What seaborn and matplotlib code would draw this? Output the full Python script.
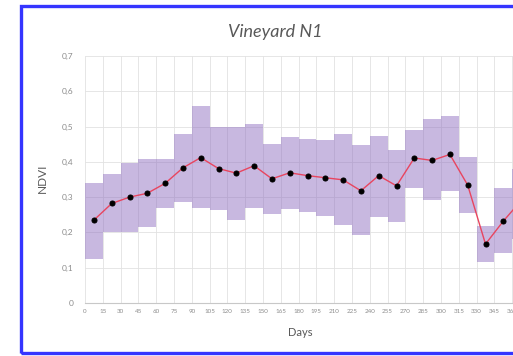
import matplotlib
matplotlib.use("Agg")
import matplotlib.pyplot as plt
import matplotlib.patches as mpatches
import numpy as np
import pandas as pd
import seaborn as sns

# Sampling days (every 15 days)
days = [0, 15, 30, 45, 60, 75, 90, 105, 120, 135, 150, 165, 180, 195, 210,
        225, 240, 255, 270, 285, 300, 315, 330, 345, 360]
# Mean NDVI per date
ndvi_mean = [0.235, 0.282, 0.300, 0.311, 0.339, 0.383, 0.412, 0.381, 0.368,
             0.389, 0.352, 0.369, 0.361, 0.355, 0.349, 0.318, 0.361, 0.332,
             0.411, 0.404, 0.421, 0.334, 0.167, 0.232, 0.290]
# Min / max NDVI per date
ndvi_min = [0.124, 0.200, 0.200, 0.214, 0.268, 0.285, 0.270, 0.264, 0.235,
            0.268, 0.252, 0.265, 0.259, 0.247, 0.221, 0.193, 0.245, 0.229,
            0.326, 0.291, 0.318, 0.254, 0.117, 0.142, 0.180]
ndvi_max = [0.341, 0.365, 0.398, 0.408, 0.408, 0.478, 0.558, 0.498, 0.500,
            0.506, 0.450, 0.471, 0.464, 0.462, 0.478, 0.448, 0.473, 0.434,
            0.490, 0.521, 0.530, 0.415, 0.217, 0.325, 0.380]
y_ticks = [0, 0.1, 0.2, 0.3, 0.4, 0.5, 0.6, 0.7]

df = pd.DataFrame({"pos": np.arange(len(days)), "day": days,
                   "mean": ndvi_mean, "lo": ndvi_min, "hi": ndvi_max})

sns.set_style("white")
plt.rcParams["font.family"] = ["Lato", "DejaVu Sans"]

W, H = 513, 356
fig = plt.figure(figsize=(W / 100, H / 100), dpi=100)
fig.patch.set_facecolor("white")
ax = fig.add_axes([85 / W, 53 / H, 445 / W, 247 / H])

text_grey = "#595959"
grid_grey = "#e2e2e2"

# min-max range as full-width columns
ax.bar(df["pos"], df["hi"] - df["lo"], bottom=df["lo"], width=1.0,
       color="#9272c2", alpha=0.5, linewidth=0, zorder=2)

# mean NDVI line
sns.lineplot(data=df, x="pos", y="mean", ax=ax, color="#e8455f", linewidth=1.0,
             marker="o", markersize=3.6, markerfacecolor="black",
             markeredgecolor="black", zorder=3)

ax.set_xlim(-0.5, len(days) - 0.5)
ax.set_ylim(0, 0.7)

ax.set_xticks(df["pos"] - 0.5)
ax.set_xticklabels([str(d) for d in days])
ax.set_yticks(y_ticks)
ax.set_yticklabels(["0" if v == 0 else f"{v:.1f}".replace(".", ",") for v in y_ticks])

ax.grid(True, color=grid_grey, linewidth=0.6, zorder=1)
ax.set_axisbelow(True)
ax.tick_params(axis="y", length=0, pad=8.5, labelsize=6, labelcolor="#8c8c8c")
ax.tick_params(axis="x", length=0, pad=4, labelsize=4.5, labelcolor="#8c8c8c")
for side in ["top", "right", "left"]:
    ax.spines[side].set_visible(False)
ax.spines["bottom"].set_color("#c8c8c8")
ax.spines["bottom"].set_linewidth(0.8)
ax.set_xlabel("")
ax.set_ylabel("")

fig.text(275 / W, 1 - 32 / H, "Vineyard N1", ha="center", va="center",
         fontsize=13, style="italic", color=text_grey)
fig.text(42 / W, 1 - 178 / H, "NDVI", ha="center", va="center", rotation=90,
         fontsize=8.5, color=text_grey)
fig.text(300 / W, 1 - 333 / H, "Days", ha="center", va="center",
         fontsize=8, color=text_grey)

# blue frame around the chart area
frame = mpatches.Rectangle((21 / W, 1 - 353 / H), 1.3, (353 - 5.5) / H,
                           transform=fig.transFigure, fill=False,
                           edgecolor="#3535ff", linewidth=2.4, clip_on=False)
fig.patches.append(frame)

fig.savefig("out.png", dpi=100)
